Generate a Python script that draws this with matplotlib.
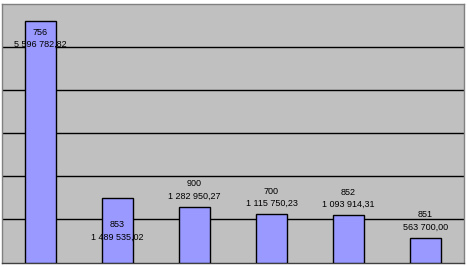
import matplotlib
matplotlib.use("Agg")
import matplotlib.pyplot as plt

# Data
codes = ["756", "853", "900", "700", "852", "851"]
amounts = [5596782.82, 1489535.02, 1282950.27, 1115750.23, 1093914.31, 563700.00]
y_max = 6000000
y_step = 1000000

# label vertical offsets in pixels (positive = above bar top)
label_offsets_px = [-17.5, -32.7, 17, 17, 17, 17]


def fmt(v):
    s = f"{v:,.2f}"
    return s.replace(",", " ").replace(".", ",")


W, H, DPI = 467, 267, 100
fig = plt.figure(figsize=(W / DPI, H / DPI), dpi=DPI)
fig.patch.set_facecolor("white")
ax = fig.add_axes([2 / W, 4.5 / H, 462 / W, 259 / H])
ax.set_facecolor("#C0C0C0")

x = list(range(len(codes)))
ax.bar(x, amounts, width=0.4, color="#9999FF", edgecolor="black", linewidth=1, zorder=3)

ax.set_xlim(-0.5, len(codes) - 0.5)
ax.set_ylim(0, y_max)
for g in range(y_step, y_max, y_step):
    ax.axhline(g, color="black", linewidth=1, zorder=1)

ax.set_xticks([])
ax.set_yticks([])
for s in ["left", "top", "right"]:
    ax.spines[s].set_color("#808080")
    ax.spines[s].set_linewidth(1)
ax.spines["bottom"].set_color("#404040")
ax.spines["bottom"].set_linewidth(1)

pt_per_px = 72 / DPI
for xi, c, v, off in zip(x, codes, amounts, label_offsets_px):
    ax.annotate(f"{c}\n{fmt(v)}", xy=(xi, v), xytext=(0, off * pt_per_px),
                textcoords="offset points", ha="center", va="center",
                fontsize=6.5, family="Liberation Sans", color="black",
                linespacing=1.5, zorder=5)

fig.savefig("out.png", dpi=DPI, facecolor="white")
